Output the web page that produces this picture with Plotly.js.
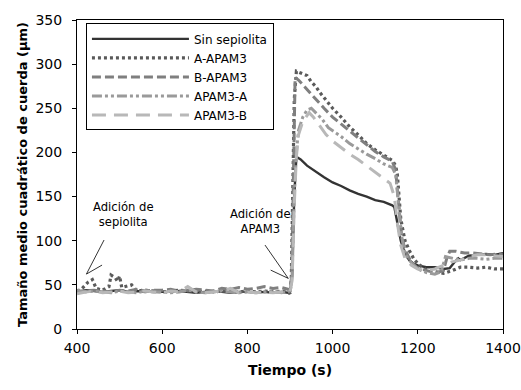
<!DOCTYPE html>
<html><head><meta charset="utf-8">
<script src="https://cdn.plot.ly/plotly-3.0.1.min.js"></script>
<style>html,body{margin:0;padding:0;background:#fff}#c{width:521px;height:390px}</style>
</head><body><div id="c"></div>
<script>
const seriesNames = ["Sin sepiolita","A-APAM3","B-APAM3","APAM3-A","APAM3-B"];

const tSin = [400,420,440,460,480,500,520,540,560,580,600,620,640,660,680,700,720,740,760,780,800,820,840,860,880,895,900,905,910,915,925,940,960,980,1000,1020,1040,1060,1080,1100,1120,1135,1140,1145,1150,1160,1170,1180,1190,1200,1220,1240,1260,1275,1285,1295,1300,1320,1340,1360,1380,1400];
const ySin = [42,44,43,42,43,44,42,43,42,43,42,42,43,42,41,42,43,42,41,42,42,41,42,41,42,41,42,60,150,195,192,185,178,172,166,162,157,153,150,146,144,141,140,138,125,100,85,78,74,72,70,70,68,69,75,80,78,83,84,85,84,86];

const tA = [400,410,420,426,436,445,460,475,480,490,495,500,505,528,540,560,580,600,620,640,660,680,700,720,740,760,780,800,820,840,860,880,895,900,903,906,910,915,925,940,950,960,970,980,990,1000,1020,1040,1060,1080,1100,1120,1140,1148,1152,1156,1160,1165,1170,1180,1190,1200,1210,1220,1240,1260,1280,1300,1320,1340,1360,1380,1400];
const yA = [43,45,50,53,56,46,44,48,61,58,54,60,47,50,43,44,43,42,43,44,43,42,43,42,43,42,42,43,42,43,42,43,42,40,55,150,260,292,290,287,280,275,268,262,256,250,240,229,220,210,203,197,191,185,175,150,125,112,100,89,80,74,70,67,65,63,66,70,70,69,70,68,68];

const tB = [400,420,440,460,480,500,520,540,560,580,600,620,640,660,680,700,720,740,760,780,800,820,840,860,880,895,900,904,908,912,920,935,950,965,980,1000,1020,1040,1060,1080,1100,1120,1140,1148,1155,1162,1170,1180,1190,1200,1215,1230,1245,1260,1268,1275,1290,1310,1330,1350,1370,1390,1400];
const yB = [41,43,44,43,42,44,43,45,43,44,44,45,43,44,45,44,43,46,45,47,45,46,48,46,47,45,44,60,200,285,282,274,265,257,250,240,232,225,216,208,201,195,190,180,140,105,90,80,73,69,67,65,64,66,80,88,88,86,86,85,84,85,84];

const tC = [400,420,440,460,480,500,520,540,560,580,600,620,640,660,680,700,720,740,760,780,800,820,840,860,880,895,900,905,910,915,920,930,940,950,960,975,990,1000,1020,1040,1060,1080,1100,1120,1140,1148,1155,1162,1170,1185,1200,1220,1240,1255,1265,1280,1300,1320,1340,1360,1380,1400];
const yC = [44,42,43,42,41,43,42,41,43,42,42,41,42,44,42,41,42,43,42,41,42,41,42,43,41,42,43,60,150,200,225,240,248,250,245,238,228,225,218,210,204,198,193,187,183,175,140,105,85,75,68,64,62,65,82,80,78,80,80,79,80,80];

const tD = [400,420,440,460,480,500,520,540,560,580,600,620,640,660,680,700,720,740,760,780,800,820,840,860,880,895,900,905,910,915,920,930,945,955,970,985,1000,1020,1040,1060,1080,1100,1120,1135,1145,1152,1160,1170,1185,1200,1220,1240,1260,1280,1300,1320,1340,1360,1380,1400];
const yD = [40,42,43,41,42,43,41,42,43,42,41,43,42,48,42,41,42,43,46,41,42,41,42,41,42,43,42,55,140,195,220,235,245,240,230,220,213,205,198,192,185,178,170,165,150,120,95,80,72,68,66,68,72,76,78,82,84,84,83,82];

const xTicks = [400,600,800,1000,1200,1400];
const yTicks = [0,50,100,150,200,250,300,350];

const FONT = "DejaVu Sans, sans-serif";
const styles = [
  {color:"#333333", dash:"solid", width:2.4},
  {color:"#5a5a5a", dash:"3px,3px", width:3.2},
  {color:"#7f7f7f", dash:"9px,4px", width:3},
  {color:"#9a9a9a", dash:"10px,3px,3px,3px,3px,3px", width:3},
  {color:"#b8b8b8", dash:"14px,8px", width:3}
];
const xs = [tSin,tA,tB,tC,tD], ys=[ySin,yA,yB,yC,yD];
const traces = [];
for (let k=0;k<5;k++){
  traces.push({x:xs[k], y:ys[k], name:seriesNames[k], type:"scatter", mode:"lines",
    line:{color:styles[k].color, dash:styles[k].dash, width:styles[k].width}, legendrank:k+1});
}
const layout = {
  width:521, height:390,
  margin:{l:77,r:18,t:20,b:61},
  paper_bgcolor:"#fff", plot_bgcolor:"#fff",
  font:{family:FONT, size:14, color:"#000"},
  showlegend:true,
  legend:{x:0.021,y:0.989,xanchor:"left",yanchor:"top",bordercolor:"#000",borderwidth:1,bgcolor:"#fff",
    font:{family:FONT,size:12,color:"#000"}, itemwidth:97, entrywidth:200, entrywidthmode:"pixels", tracegroupgap:0},
  xaxis:{range:[400,1400], tickvals:xTicks, ticks:"outside", ticklen:4, tickcolor:"#000",
    showline:true, linecolor:"#000", linewidth:1, mirror:true, showgrid:false, zeroline:false,
    tickfont:{size:14,family:FONT}, ticklabelstandoff:2,
    title:{text:"<b>Tiempo (s)</b>", font:{size:14,family:FONT}, standoff:10}},
  yaxis:{range:[0,350], tickvals:yTicks, ticks:"outside", ticklen:4, tickcolor:"#000",
    showline:true, linecolor:"#000", linewidth:1, mirror:true, showgrid:false, zeroline:false,
    tickfont:{size:14,family:FONT}, ticklabelstandoff:7,
    title:{text:"<b>Tamaño medio cuadrático de cuerda (µm)</b>", font:{size:13,family:FONT}, standoff:4}},
  annotations:[
    {x:508.6,y:129.2,xref:"x",yref:"y",text:"Adición de<br>sepiolita",showarrow:false,font:{size:11.6,family:FONT}},
    {x:831.8,y:121.8,xref:"x",yref:"y",text:"Adición de<br>APAM3",showarrow:false,font:{size:11.6,family:FONT}}
  ],
  shapes:[
    {type:"line",xref:"x",yref:"y",x0:463.5,y0:100.8,x1:422.1,y1:62.2,line:{color:"#000",width:0.8}},
    {type:"line",xref:"x",yref:"y",x0:458.8,y0:72.4,x1:422.1,y1:62.2,line:{color:"#000",width:0.8}},
    {type:"line",xref:"x",yref:"y",x0:841.3,y0:95.1,x1:896.0,y1:57.3,line:{color:"#000",width:0.8}},
    {type:"line",xref:"x",yref:"y",x0:854.7,y0:66.7,x1:896.0,y1:57.3,line:{color:"#000",width:0.8}}
  ]
};
Plotly.newPlot("c", traces, layout, {displayModeBar:false, staticPlot:true});
</script></body></html>
